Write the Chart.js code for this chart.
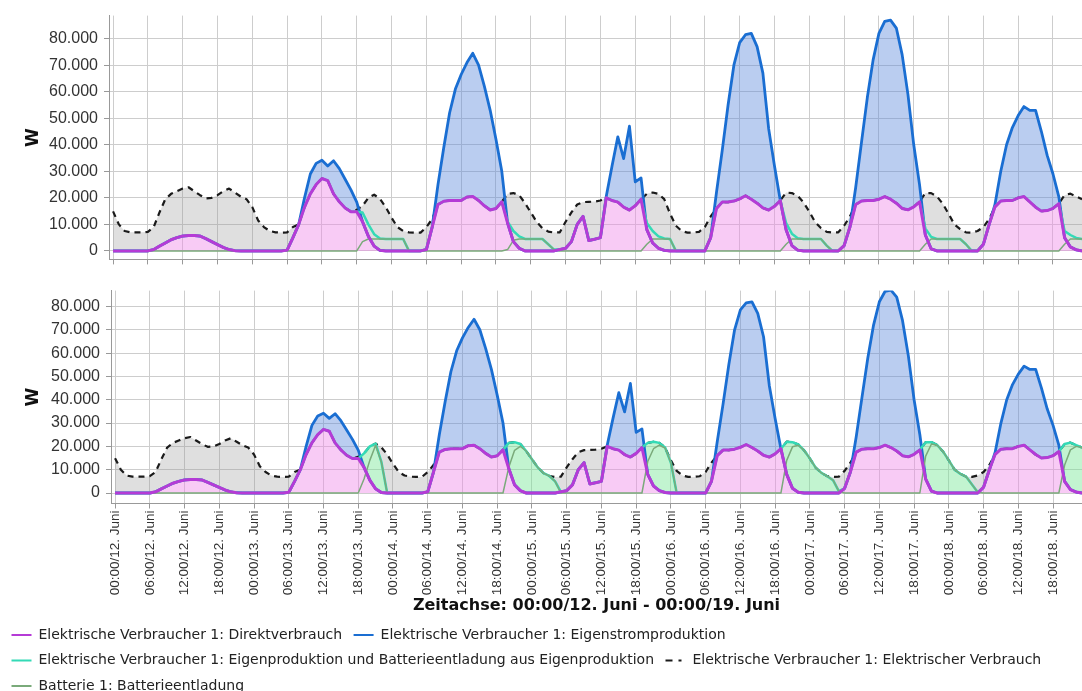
<!DOCTYPE html>
<html>
<head>
<meta charset="utf-8">
<script src="https://cdn.jsdelivr.net/npm/chart.js@4.4.1/dist/chart.umd.min.js"></script>
<style>
  html, body { margin: 0; padding: 0; background: #fff; width: 1082px; height: 691px; overflow: hidden; }
  canvas { position: absolute; left: 0; }
</style>
</head>
<body>
<canvas id="topChart" width="1082" height="275" style="top:0"></canvas>
<canvas id="botChart" width="1082" height="428" style="top:275px"></canvas>
<script>
// ---------- DATA (kW, hourly from 00:00/12. Juni) ----------
const hours = Array.from({length: 168}, (_, i) => i);

const xTickHours = [0,6,12,18,24,30,36,42,48,54,60,66,72,78,84,90,96,102,108,114,120,126,132,138,144,150,156,162];
const xTickLabels = [
  '00:00/12. Juni','06:00/12. Juni','12:00/12. Juni','18:00/12. Juni',
  '00:00/13. Juni','06:00/13. Juni','12:00/13. Juni','18:00/13. Juni',
  '00:00/14. Juni','06:00/14. Juni','12:00/14. Juni','18:00/14. Juni',
  '00:00/15. Juni','06:00/15. Juni','12:00/15. Juni','18:00/15. Juni',
  '00:00/16. Juni','06:00/16. Juni','12:00/16. Juni','18:00/16. Juni',
  '00:00/17. Juni','06:00/17. Juni','12:00/17. Juni','18:00/17. Juni',
  '00:00/18. Juni','06:00/18. Juni','12:00/18. Juni','18:00/18. Juni'
];
const yTicks = [0,10,20,30,40,50,60,70,80];
const yTickLabels = ['0','10.000','20.000','30.000','40.000','50.000','60.000','70.000','80.000'];

// Elektrischer Verbrauch (dashed)
const verbrauchKW = [
  14.9,10,7.5,7,7,7,7.2,9,14.5,19.5,21.5,22.5,23.5,24,22.5,21,19.8,20,21,22.5,23.5,22,20.5,19.5,
  16.5,11.5,9,7.5,7,6.9,7,9,10,16.5,21.5,25,27.3,26.5,21.5,18.5,16.2,14.8,15.5,17,20,21.2,19.6,16.5,
  12.5,9,7.5,7,6.9,6.9,9,12,17.5,18.7,19,19,19,20.3,20.5,19,17,15.4,16,18.5,21.5,21.8,21,18,
  14.5,11,8.5,7.3,6.9,7,11,14.5,17.5,18.4,18.5,18.6,19,20,19,18.4,16.5,15.4,17,19.5,21.5,22,21.5,19.5,
  14,9.5,7.5,6.9,6.9,7.2,9,13,16,18.4,18.4,18.8,19.6,20.8,19.5,18,16.2,15.4,16.8,19,22,21.8,20.8,18.3,
  14.8,10.9,8.6,7.2,6.9,7,9.5,13,17.5,18.8,19,19,19.5,20.5,19.5,18,16,15.5,16.6,18.5,21.8,21.8,20.5,17.8,
  14,10,8.2,7,6.9,7.5,9,12,16.6,18.8,19,19,20,20.5,18.5,16.5,15,15.2,16,17.8,21,21.6,20.5,19.5
];
// Direktverbrauch (magenta)
const direktKW = [
  0,0,0,0,0,0,0,0.5,1.8,3,4.2,5,5.6,5.8,5.8,5.6,4.6,3.5,2.4,1.3,0.5,0.1,0,0,
  0,0,0,0,0,0,0.3,5,10,16.5,21.5,25,27.3,26.5,21.5,18.5,16.2,14.8,14.8,11,5.5,1.8,0.2,0,
  0,0,0,0,0,0,0.5,9,17.5,18.7,19,19,19,20.3,20.5,19,17,15.4,16,18.5,10.5,3.5,1,0,
  0,0,0,0,0,0.5,1,3.5,10,13,3.9,4.4,5,20,19,18.4,16.5,15.4,17,19.5,8,3,1,0.2,
  0,0,0,0,0,0,0,5,16,18.4,18.4,18.8,19.6,20.8,19.5,18,16.2,15.4,16.8,19,8,2,0.3,0,
  0,0,0,0,0,0,2,9,17.5,18.8,19,19,19.5,20.5,19.5,18,16,15.5,16.6,18.5,6,0.8,0,0,
  0,0,0,0,0,0,2.5,10,16.6,18.8,19,19,20,20.5,18.5,16.5,15,15.2,16,17.8,5,1.5,0.4,0
];
// Eigenstromproduktion (blue)
const eigenstromKW = [
  0,0,0,0,0,0,0,0.5,1.8,3,4.2,5,5.6,5.8,5.8,5.6,4.6,3.5,2.4,1.3,0.5,0.1,0,0,
  0,0,0,0,0,0,0.3,5,10,20,29,33,34.2,32,34,31,27,23,18.4,11,5.5,1.8,0.2,0,
  0,0,0,0,0,0,0.5,9,25,39,52,61,66.5,71,74.5,70,62,53,42,30,10.5,3.5,1,0,
  0,0,0,0,0,0.5,1,3.5,10,13,3.9,4.4,5,20.5,32,43,34.8,47,26,27.5,8,3,1,0.2,
  0,0,0,0,0,0,0,5,22,38,55,70,78.5,81.5,82,77,67,46,32,19,8,2,0.3,0,
  0,0,0,0,0,0,2,9,24,41,57.8,72,82,86.5,87,84,74,59,40,25,6,0.8,0,0,
  0,0,0,0,0,0,2.5,10,17.5,30,40,46.5,51,54.4,53,53,45,36,29,20.5,5,1.5,0.4,0
];
// Top chart: Eigenproduktion und Batterieentladung (teal) and Batterieentladung
const eigenBattTopKW = [
  0,0,0,0,0,0,0,0.5,1.8,3,4.2,5,5.6,5.8,5.8,5.6,4.6,3.5,2.4,1.3,0.5,0.1,0,0,
  0,0,0,0,0,0,0.3,5,10,16.5,21.5,25,27.3,26.5,21.5,18.5,16.2,14.8,14.8,14.5,10,6.3,4.7,4.5,
  4.5,4.5,4.5,0,0,0,0.5,9,17.5,18.7,19,19,19,20.3,20.5,19,17,15.4,16,18.5,11,7.5,5.5,4.5,
  4.5,4.5,4.5,2.5,0.5,0.5,1,3.5,10,13,3.9,4.4,5,20,19,18.4,16.5,15.4,17,19.5,10.5,7.5,5.5,4.7,
  4.5,0,0,0,0,0,0,5,16,18.4,18.4,18.8,19.6,20.8,19.5,18,16.2,15.4,16.8,19,10.5,6.5,4.8,4.5,
  4.5,4.5,4.5,2,0,0,2,9,17.5,18.8,19,19,19.5,20.5,19.5,18,16,15.5,16.6,18.5,8.5,5.3,4.5,4.5,
  4.5,4.5,4.5,2.5,0,0,2.5,10,16.6,18.8,19,19,20,20.5,18.5,16.5,15,15.2,16,17.8,7.5,6,4.9,4.5
];
const batterieTopKW = [
  0,0,0,0,0,0,0,0,0,0,0,0,0,0,0,0,0,0,0,0,0,0,0,0,
  0,0,0,0,0,0,0,0,0,0,0,0,0,0,0,0,0,0,0,3.5,4.5,4.5,4.5,4.5,
  4.5,4.5,4.5,0,0,0,0,0,0,0,0,0,0,0,0,0,0,0,0,0,0.5,4,4.5,4.5,
  4.5,4.5,4.5,2.5,0.5,0,0,0,0,0,0,0,0,0,0,0,0,0,0,0,2.5,4.5,4.5,4.5,
  4.5,0,0,0,0,0,0,0,0,0,0,0,0,0,0,0,0,0,0,0,2.5,4.5,4.5,4.5,
  4.5,4.5,4.5,2,0,0,0,0,0,0,0,0,0,0,0,0,0,0,0,0,2.5,4.5,4.5,4.5,
  4.5,4.5,4.5,2.5,0,0,0,0,0,0,0,0,0,0,0,0,0,0,0,0,2.5,4.5,4.5,4.5
];
// Bottom chart: Eigenproduktion und Batterieentladung (teal) and Batterieentladung
const eigenBattBotKW = [
  0,0,0,0,0,0,0,0.5,1.8,3,4.2,5,5.6,5.8,5.8,5.6,4.6,3.5,2.4,1.3,0.5,0.1,0,0,
  0,0,0,0,0,0,0.3,5,10,16.5,21.5,25,27.3,26.5,21.5,18.5,16.2,14.8,14.8,17,20,21.2,13.3,0,
  0,0,0,0,0,0,0.5,9,17.5,18.7,19,19,19,20.3,20.5,19,17,15.4,16,18.5,21.5,21.8,21,18,
  14.5,11,8.5,7.3,5,0.5,1,3.5,10,13,3.9,4.4,5,20,19,18.4,16.5,15.4,17,19.5,21.5,22,21.5,19.5,
  13,0,0,0,0,0,0,5,16,18.4,18.4,18.8,19.6,20.8,19.5,18,16.2,15.4,16.8,19,22,21.8,20.8,18.3,
  14.8,10.9,8.6,7.2,5.5,0.8,2,9,17.5,18.8,19,19,19.5,20.5,19.5,18,16,15.5,16.6,18.5,21.8,21.8,20.5,17.8,
  14,10,8.2,7,3.6,0.3,2.5,10,16.6,18.8,19,19,20,20.5,18.5,16.5,15,15.2,16,17.8,21,21.6,20.5,19.5
];
const batterieBotKW = [
  0,0,0,0,0,0,0,0,0,0,0,0,0,0,0,0,0,0,0,0,0,0,0,0,
  0,0,0,0,0,0,0,0,0,0,0,0,0,0,0,0,0,0,0,6,14,20.5,13.2,0,
  0,0,0,0,0,0,0,0,0,0,0,0,0,0,0,0,0,0,0,0,11,18.3,20,18,
  14.5,11,8.5,7.3,5,0,0,0,0,0,0,0,0,0,0,0,0,0,0,0,13.5,19,20.5,19.3,
  13,0,0,0,0,0,0,0,0,0,0,0,0,0,0,0,0,0,0,0,14,19.8,20.5,18.3,
  14.8,10.9,8.6,7.2,5.5,0.8,0,0,0,0,0,0,0,0,0,0,0,0,0,0,15.8,21,20.5,17.8,
  14,10,8.2,7,3.6,0.3,0,0,0,0,0,0,0,0,0,0,0,0,0,0,12,18.5,20,19.5
];

const seriesNames = [
  'Elektrische Verbraucher 1: Direktverbrauch',
  'Elektrische Verbraucher 1: Eigenstromproduktion',
  'Elektrische Verbraucher 1: Eigenproduktion und Batterieentladung aus Eigenproduktion',
  'Elektrische Verbraucher 1: Elektrischer Verbrauch',
  'Batterie 1: Batterieentladung'
];
const xTitle = 'Zeitachse: 00:00/12. Juni - 00:00/19. Juni';

// ---------- CHARTS ----------
Chart.defaults.font.family = "'DejaVu Sans', sans-serif";

function makeDatasets(tealArr, battArr, isBottom) {
  const common = { pointRadius: 0, pointHoverRadius: 0, tension: 0, borderJoinStyle: 'round' };
  return [
    Object.assign({}, common, { label: seriesNames[0], data: direktKW, borderColor: '#b53bd6',
      backgroundColor: 'rgba(240,140,232,0.45)', borderWidth: 3, fill: 'origin', order: 1 }),
    Object.assign({}, common, { label: seriesNames[1], data: eigenstromKW, borderColor: '#1a6ed2',
      backgroundColor: 'rgba(90,135,220,0.42)', borderWidth: 2.8, fill: '-1', order: 5 }),
    Object.assign({}, common, { label: seriesNames[2], data: tealArr, borderColor: '#33dab6',
      backgroundColor: isBottom ? 'rgba(120,230,150,0.45)' : 'rgba(0,0,0,0)', borderWidth: 2.5,
      fill: isBottom ? '-2' : false, order: 4 }),
    Object.assign({}, common, { label: seriesNames[3], data: verbrauchKW, borderColor: '#1a1a1a',
      borderDash: [6, 5], backgroundColor: 'rgba(150,150,150,0.3)', borderWidth: 2.2,
      fill: isBottom ? '-1' : '-3', order: 6 }),
    Object.assign({}, common, { label: seriesNames[4], data: battArr, borderColor: '#7aaa7a',
      backgroundColor: '#7aaa7a', borderWidth: 1.5, fill: false, order: 3 })
  ];
}

function yScale(min, max, axisWidth) {
  return {
    type: 'linear', min: min, max: max,
    afterBuildTicks: (s) => { s.ticks = yTicks.map(v => ({ value: v })); },
    afterFit: (s) => { s.width = axisWidth; },
    ticks: {
      callback: (v) => yTickLabels[yTicks.indexOf(v)],
      font: { family: "'Liberation Sans', Arial, sans-serif", size: 16 },
      color: '#333', padding: 6
    },
    grid: { color: '#cdcdcd', tickColor: '#999', tickLength: 5 },
    border: { display: true, color: '#999' },
    title: { display: true, text: 'W', color: '#111',
      font: { family: "'DejaVu Sans', sans-serif", size: 17, weight: 'bold' },
      padding: { top: 23, bottom: 0 } }
  };
}

function xScale(showLabels, axisHeight) {
  return {
    type: 'linear', min: -0.7, max: 167,
    afterBuildTicks: (s) => { s.ticks = xTickHours.map(v => ({ value: v })); },
    afterFit: (s) => { s.height = axisHeight; },
    ticks: {
      display: showLabels, autoSkip: false, minRotation: 90, maxRotation: 90, padding: 2,
      callback: (v) => xTickLabels[xTickHours.indexOf(v)],
      font: { family: "'Liberation Sans', Arial, sans-serif", size: 13.5 },
      color: '#333'
    },
    grid: { color: '#cdcdcd', tickColor: '#999', tickLength: 5 },
    border: { display: true, color: '#999' },
    title: { display: showLabels, text: xTitle, color: '#111',
      font: { family: "'DejaVu Sans', sans-serif", size: 16, weight: 'bold' },
      padding: { top: 0, bottom: 1 } }
  };
}

new Chart(document.getElementById('topChart'), {
  type: 'line',
  data: { labels: hours, datasets: makeDatasets(eigenBattTopKW, batterieTopKW, false) },
  options: {
    responsive: false, animation: false, devicePixelRatio: 1,
    layout: { padding: { left: 0, top: 15, right: 0, bottom: 0 } },
    scales: { x: xScale(false, 7), y: yScale(-3.2, 88.7, 109) },
    plugins: { legend: { display: false }, tooltip: { enabled: false },
      filler: { drawTime: 'beforeDatasetsDraw' } }
  }
});

new Chart(document.getElementById('botChart'), {
  type: 'line',
  data: { labels: hours, datasets: makeDatasets(eigenBattBotKW, batterieBotKW, true) },
  options: {
    responsive: false, animation: false, devicePixelRatio: 1,
    layout: { padding: { left: 0, top: 8, right: 0, bottom: 0 } },
    scales: { x: xScale(true, 113), y: yScale(-4.5, 86.8, 111) },
    plugins: {
      tooltip: { enabled: false },
      filler: { drawTime: 'beforeDatasetsDraw' },
      legend: {
        display: true, position: 'bottom', align: 'start',
        labels: {
          usePointStyle: true, pointStyle: 'line', pointStyleWidth: 20, padding: 11.5,
          color: '#222', font: { family: "'DejaVu Sans', sans-serif", size: 14 },
          sort: (a, b) => a.datasetIndex - b.datasetIndex,
          generateLabels: (chart) => Chart.defaults.plugins.legend.labels.generateLabels(chart)
            .map(l => Object.assign(l, { lineWidth: 2,
              lineDash: l.datasetIndex === 3 ? [7, 6, 3, 20] : [] }))
        }
      }
    }
  }
});
</script>
</body>
</html>
